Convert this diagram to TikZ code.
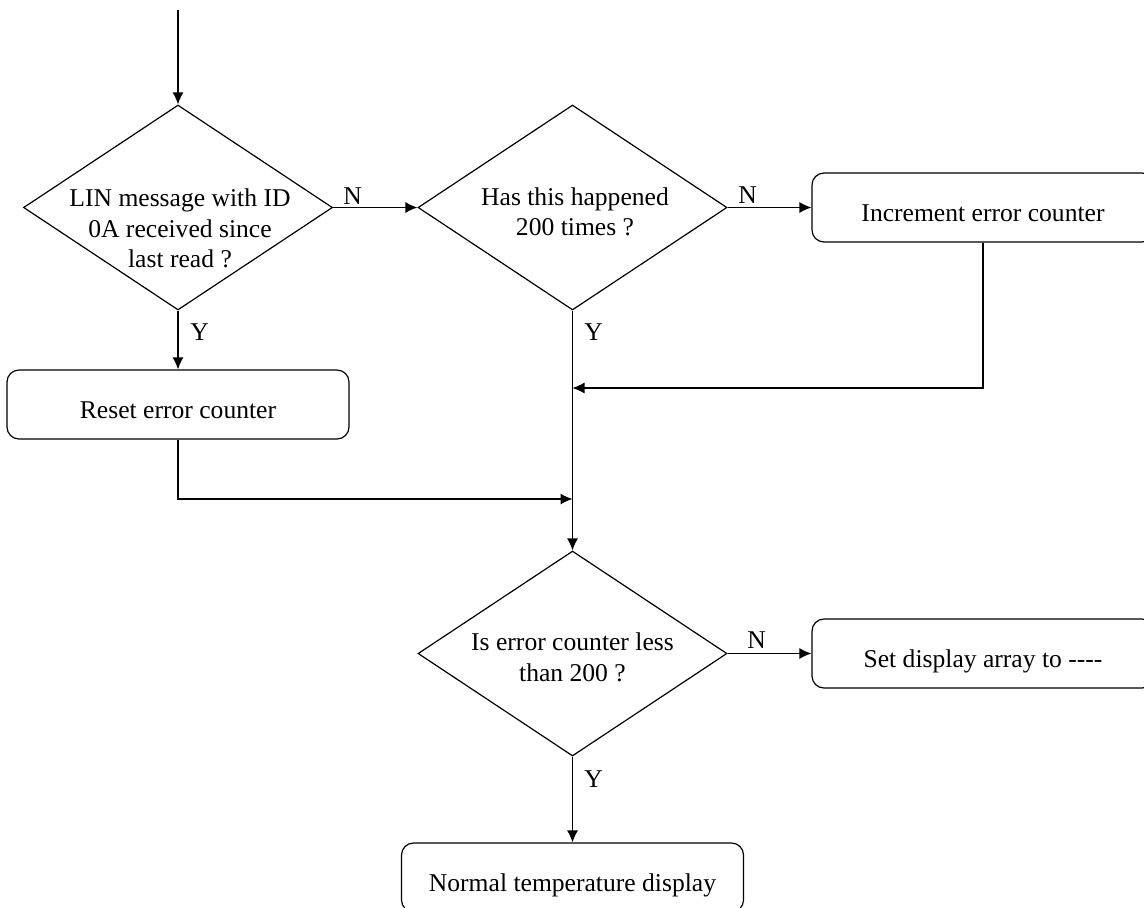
\documentclass[tikz,border=0pt]{standalone}
\usepackage{fontspec}
\setmainfont{Liberation Serif}
\usetikzlibrary{shapes.geometric,arrows.meta}
\tikzset{
  decision/.style={draw, diamond, minimum width=154.5pt, minimum height=102.5pt, inner sep=0pt, line width=0.6pt},
  process/.style={draw, rounded corners=6pt, minimum width=171pt, minimum height=34.5pt, text height=13.5pt, text depth=0pt, line width=0.6pt},
  qtext/.style={align=center, inner sep=0pt, anchor=north},
  lbl/.style={inner sep=0pt},
  edgeflow/.style={line width=0.6pt, -{Latex[length=6pt,width=5.5pt]}}
}

\begin{document}
\begin{tikzpicture}[x=0.5pt, y=-0.5pt, font=\fontsize{12.8}{15.2}\selectfont]
\clip (0,0) rectangle (1144,907);
% decisions and actions
\coordinate (start) at (178,10);
\node[decision] (d1) at (178,207.5) {};
\node[qtext] (q1) at (180,188.5) {LIN message with ID\\0A received since\\last read ?};
\node[decision] (d2) at (572.5,207.5) {};
\node[qtext] (q2) at (575,187) {Has this happened\\200 times ?};
\node[process] (inc) at (983,207.5) {Increment error counter};
\node[process] (reset) at (178,404.5) {Reset error counter};
\coordinate (m1) at (572.5,388);
\coordinate (m2) at (572.5,499);
\node[decision] (d3) at (572.5,653.5) {};
\node[qtext] (q3) at (572.5,632.5) {Is error counter less\\than 200 ?};
\node[process] (setd) at (983,653.5) {Set display array to -{}-{}-{}-};
\node[process] (norm) at (572.5,877.5) {Normal temperature display};
% branch labels
\node[lbl, anchor=base west] (n1) at (343,204) {N};
\node[lbl, anchor=base west] (n2) at (738,203) {N};
\node[lbl, anchor=base west] (n3) at (747,648) {N};
\node[lbl, anchor=north west] (y1) at (190,323) {Y};
\node[lbl, anchor=north west] (y2) at (584,323) {Y};
\node[lbl, anchor=north west] (y3) at (584,770) {Y};
% connectors
\draw[edgeflow] (start) -- (d1.north);
\draw[edgeflow] (d1.east) -- (d2.west);
\draw[edgeflow] (d2.east) -- (inc.west);
\draw[edgeflow] (d1.south) -- (reset.north);
\draw[edgeflow] (inc.south) |- (m1);
\draw[edgeflow] (reset.south) |- (m2);
\draw[edgeflow] (d2.south) -- (d3.north);
\draw[edgeflow] (d3.east) -- (setd.west);
\draw[edgeflow] (d3.south) -- (norm.north);
\end{tikzpicture}
\end{document}
